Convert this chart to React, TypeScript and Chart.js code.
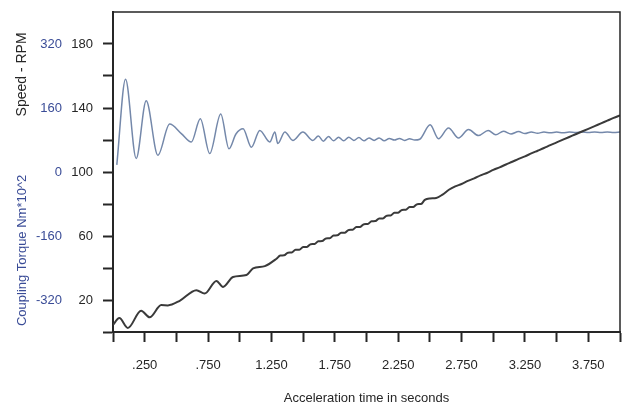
import React, { useEffect, useRef } from 'react';
import { Chart, registerables } from 'chart.js';

Chart.register(...registerables);

// ---- Data ----
const speedTimes = [
  0.0, 0.05, 0.117, 0.222, 0.289, 0.381, 0.433, 0.526, 0.658, 0.723, 0.816, 0.868, 0.947, 1.053, 1.105, 1.198, 1.29,
  1.32, 1.35, 1.38, 1.41, 1.44, 1.47, 1.5, 1.53, 1.56, 1.59, 1.62, 1.65, 1.68, 1.71, 1.74, 1.77, 1.8, 1.83, 1.86, 1.89,
  1.92, 1.95, 1.98, 2.01, 2.04, 2.07, 2.1, 2.13, 2.16, 2.19, 2.22, 2.25, 2.28, 2.31, 2.34, 2.37, 2.4, 2.43, 2.46,
  2.5, 2.55, 2.6, 2.65, 2.7, 2.75, 2.8, 2.85, 2.9, 2.95, 3.0, 3.05, 3.1, 3.15, 3.2, 3.25, 3.3, 3.35, 3.4, 3.45, 3.5,
  3.55, 3.6, 3.65, 3.7, 3.75, 3.8, 3.85, 3.9, 3.95, 4.0,
];
const speedRpm = [
  4.5, 8.7, 2.5, 13.3, 9.2, 16.8, 16.6, 19.5, 26.1, 24.0, 31.9, 28.2, 34.4, 35.6, 39.7, 41.2, 45.8,
  47.8, 47.9, 49.6, 49.7, 51.4, 51.4, 53.1, 53.2, 54.9, 55.0, 56.7, 56.8, 58.5, 58.6, 60.3, 60.4, 62.0, 62.1, 63.8, 63.9,
  65.6, 65.7, 67.4, 67.5, 69.2, 69.3, 71.0, 71.0, 72.7, 72.8, 74.5, 74.6, 76.3, 76.4, 78.1, 78.2, 79.9, 80.0, 82.6,
  83.5, 83.8, 85.9, 88.9, 91.0, 92.5, 94.4, 96.0, 97.9, 99.4, 101.3, 102.9, 104.7, 106.4, 108.2, 109.8, 111.6, 113.3, 115.0, 116.8, 118.5,
  120.2, 121.9, 123.6, 125.3, 127.0, 128.7, 130.4, 132.1, 133.8, 135.4,
];

const torqueTimes = [
  0.03, 0.099, 0.183, 0.262, 0.354, 0.447, 0.539, 0.618, 0.689, 0.763, 0.85, 0.915, 0.97, 1.026, 1.092, 1.158, 1.237,
  1.277, 1.3, 1.356, 1.419, 1.498, 1.577,
  1.62, 1.66, 1.7, 1.74, 1.78, 1.82, 1.86, 1.9, 1.94, 1.98, 2.02, 2.06, 2.1, 2.14, 2.18, 2.22, 2.26, 2.3, 2.34, 2.38, 2.42,
  2.502, 2.568, 2.647, 2.726, 2.805, 2.884, 2.96, 3.02, 3.08, 3.14, 3.2, 3.25, 3.3, 3.35, 3.4, 3.45, 3.5, 3.55, 3.6,
  3.65, 3.7, 3.75, 3.8, 3.85, 3.9, 3.95, 4.0,
];
const torqueValues = [
  18, 232, 34, 178, 42, 120, 96, 75, 133, 46, 145, 58, 95, 108, 62, 104, 75,
  100, 71, 100, 79, 100, 79,
  90, 77, 89, 78, 87, 78, 87, 79, 86, 78, 85, 79, 85, 78, 84, 80, 84, 79, 83, 80, 82,
  118, 83, 110, 85, 106, 91, 104, 93, 102, 95, 101, 96, 100, 97, 100, 98, 100, 98, 100,
  99, 100, 99, 100, 99, 100, 99, 100,
];

const xLabelValues = [0.25, 0.75, 1.25, 1.75, 2.25, 2.75, 3.25, 3.75];
const xLabels = ['.250', '.750', '1.250', '1.750', '2.250', '2.750', '3.250', '3.750'];
const speedLabelValues = [20, 60, 100, 140, 180];
const torqueTicks = [-320, -160, 0, 160, 320];

const speedTitle = 'Speed - RPM';
const torqueTitle = 'Coupling Torque Nm*10^2';
const xTitle = 'Acceleration time in seconds';

const INK = '#262626';
const BLUE_TEXT = '#3a4c97';
const BLUE_LINE = '#7488aa';
const FONT = "'Liberation Sans', Arial, sans-serif";

const framePlugin = {
  id: 'frameAndTitles',
  afterDraw(chart: any) {
    const { ctx, chartArea } = chart;
    const { top, right, left, bottom } = chartArea;
    ctx.save();
    ctx.strokeStyle = INK;
    ctx.lineWidth = 1.5;
    ctx.beginPath();
    ctx.moveTo(left, top);
    ctx.lineTo(right, top);
    ctx.lineTo(right, bottom);
    ctx.stroke();

    ctx.textAlign = 'center';
    ctx.textBaseline = 'middle';
    const ys = chart.scales.y;
    ctx.save();
    ctx.font = `14px ${FONT}`;
    ctx.translate(22, ys.getPixelForValue(161));
    ctx.rotate(-Math.PI / 2);
    ctx.fillStyle = INK;
    ctx.fillText(speedTitle, 0, 0);
    ctx.restore();
    ctx.save();
    ctx.font = `13px ${FONT}`;
    ctx.translate(22, ys.getPixelForValue(51));
    ctx.rotate(-Math.PI / 2);
    ctx.fillStyle = BLUE_TEXT;
    ctx.fillText(torqueTitle, 0, 0);
    ctx.restore();
    ctx.restore();
  },
};

export default function App() {
  const ref = useRef<HTMLCanvasElement | null>(null);

  useEffect(() => {
    document.body.style.margin = '0';
    const canvas = ref.current;
    if (!canvas) return;
    const speedData = speedTimes.map((t, i) => ({ x: t, y: speedRpm[i] }));
    const torqueData = torqueTimes.map((t, i) => ({ x: t, y: torqueValues[i] }));

    const chart = new Chart(canvas, {
      type: 'line',
      data: {
        datasets: [
          {
            data: speedData,
            yAxisID: 'y',
            borderColor: '#3a3a3a',
            borderWidth: 2,
            pointRadius: 0,
            cubicInterpolationMode: 'monotone',
            fill: false,
          },
          {
            data: torqueData,
            yAxisID: 'y1',
            borderColor: BLUE_LINE,
            borderWidth: 1.5,
            pointRadius: 0,
            cubicInterpolationMode: 'monotone',
            fill: false,
          },
        ],
      },
      options: {
        responsive: false,
        animation: false,
        devicePixelRatio: 1,
        layout: { padding: { left: 30, right: 4, top: 12, bottom: 0 } },
        plugins: { legend: { display: false }, tooltip: { enabled: false } },
        font: { family: FONT },
        scales: {
          x: {
            type: 'linear',
            min: 0,
            max: 4,
            border: { display: true, color: INK, width: 2 },
            grid: { drawOnChartArea: false, drawTicks: true, tickLength: 10, tickWidth: 2, color: INK },
            ticks: {
              stepSize: 0.25,
              autoSkip: false,
              maxRotation: 0,
              padding: 16,
              color: INK,
              font: { family: FONT, size: 13 },
              callback: (v: any) => {
                const i = xLabelValues.findIndex((x) => Math.abs(x - Number(v)) < 1e-6);
                return i >= 0 ? xLabels[i] : '';
              },
            },
            title: {
              display: true,
              text: xTitle,
              color: INK,
              font: { family: FONT, size: 13 },
              padding: { top: 0, bottom: 1 },
            },
            afterFit: (s: any) => {
              s.height = 75;
              s.paddingLeft = 0;
              s.paddingRight = 0;
            },
          },
          y: {
            type: 'linear',
            position: 'left',
            weight: 0,
            min: 0,
            max: 200,
            border: { display: true, color: INK, width: 2 },
            grid: {
              drawOnChartArea: false,
              drawTicks: true,
              tickLength: 10,
              tickWidth: 2,
              color: INK,
              tickColor: (c: any) => (c.tick && c.tick.value === 200 ? 'rgba(0,0,0,0)' : INK),
            },
            ticks: {
              stepSize: 20,
              autoSkip: false,
              padding: 10,
              color: INK,
              font: { family: FONT, size: 13 },
              callback: (v: any) => (speedLabelValues.includes(Number(v)) ? String(v) : ''),
            },
            afterFit: (s: any) => {
              s.width = 50;
              s.paddingTop = 0;
              s.paddingBottom = 0;
            },
          },
          y1: {
            type: 'linear',
            position: 'left',
            weight: 1,
            min: -400,
            max: 400,
            border: { display: false },
            grid: { display: false, drawTicks: false, drawOnChartArea: false },
            ticks: {
              padding: 1,
              autoSkip: false,
              color: BLUE_TEXT,
              font: { family: FONT, size: 13 },
              callback: (v: any) => String(v),
            },
            afterBuildTicks: (axis: any) => {
              axis.ticks = torqueTicks.map((v) => ({ value: v }));
            },
            afterFit: (s: any) => {
              s.width = 33;
              s.paddingTop = 0;
              s.paddingBottom = 0;
            },
          },
        },
      },
      plugins: [framePlugin],
    } as any);

    return () => chart.destroy();
  }, []);

  return (
    <div style={{ width: 624, height: 407, background: '#fff' }}>
      <canvas ref={ref} width={624} height={407} style={{ display: 'block' }} />
    </div>
  );
}
